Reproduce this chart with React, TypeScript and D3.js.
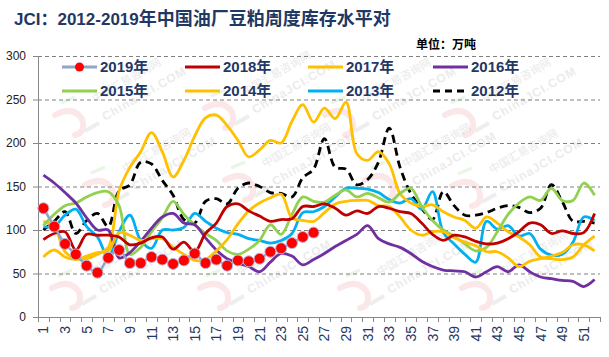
import React from "react";
import * as d3 from "d3";

const W = 609;
const H = 357;

const titleLatin = "JCI：2012-2019";
const titleCJK = "年中国油厂豆粕周度库存水平对";
const unitLabel = "单位：万吨";

const weeks: number[] = d3.range(1, 53);
const yTicks = [0, 50, 100, 150, 200, 250, 300];
const xLabelWeeks = d3.range(1, 53, 2);

const s2019 = [125, 104, 84, 72, 59, 51, 68, 77, 62, 62, 69, 66, 61, 65, 73, 62, 66, 59, 65, 64, 67, 75, 79, 85, 92, 97];
const s2018 = [89, 96, 98, 77, 95, 94, 94, 92, 83, 85, 91, 92, 78, 86, 75, 96, 108, 127, 130, 122, 116, 110, 112, 113, 127, 127, 130, 125, 117, 122, 119, 127, 125, 121, 119, 108, 95, 88, 94, 92, 87, 84, 85, 90, 98, 108, 106, 96, 99, 96, 97, 119];
const s2017 = [69, 77, 69, 66, 70, 74, 76, 97, 94, 88, 90, 90, 80, 72, 65, 66, 76, 89, 107, 122, 131, 137, 141, 114, 111, 110, 120, 130, 133, 134, 134, 128, 127, 115, 100, 94, 98, 98, 91, 86, 82, 75, 75, 68, 58, 64, 67, 70, 74, 83, 83, 76];
const s2016 = [163, 154, 143, 131, 114, 100, 100, 68, 74, 87, 102, 115, 119, 108, 106, 91, 77, 67, 62, 58, 52, 63, 73, 70, 60, 66, 73, 81, 88, 95, 105, 90, 84, 80, 73, 64, 58, 54, 53, 52, 46, 52, 58, 52, 60, 52, 46, 44, 42, 41, 35, 43];
const s2015 = [105, 118, 128, 131, 138, 143, 144, 128, 72, 80, 98, 114, 133, 118, 106, 96, 88, 76, 72, 78, 88, 106, 95, 118, 138, 133, 132, 140, 146, 138, 142, 137, 132, 142, 148, 127, 111, 100, 93, 84, 76, 80, 98, 118, 131, 138, 134, 148, 134, 134, 154, 140];
const s2014 = [110, 104, 75, 67, 67, 72, 80, 145, 172, 190, 212, 190, 161, 180, 208, 229, 232, 220, 203, 184, 192, 203, 200, 225, 244, 224, 240, 228, 247, 188, 180, 190, 176, 142, 131, 127, 129, 121, 115, 111, 102, 115, 108, 98, 92, 83, 69, 67, 66, 69, 83, 93];
const s2013 = [104, 104, 117, 124, 104, 92, 69, 98, 117, 88, 79, 100, 100, 103, 119, 110, 102, 97, 95, 90, 88, 85, 88, 96, 120, 121, 127, 138, 148, 148, 147, 143, 135, 131, 136, 124, 144, 97, 84, 72, 63, 110, 101, 105, 93, 96, 78, 71, 72, 86, 115, 111];
const s2012 = [100, 110, 121, 96, 111, 119, 104, 145, 152, 178, 176, 157, 140, 112, 108, 133, 136, 130, 148, 154, 150, 143, 142, 138, 160, 170, 205, 172, 170, 152, 158, 178, 217, 172, 142, 125, 112, 144, 128, 117, 117, 120, 125, 128, 126, 120, 125, 152, 133, 110, 110, 108];

const seriesNames = ["2019年", "2018年", "2017年", "2016年", "2015年", "2014年", "2013年", "2012年"];
const seriesValues = [s2019, s2018, s2017, s2016, s2015, s2014, s2013, s2012];
const seriesColors = ["#8EA6C9", "#C00000", "#FFC000", "#7030A0", "#92D050", "#FFC000", "#00B0F0", "#000000"];

const M = { left: 38, right: 600, top: 56, bottom: 317 };

const x = d3.scaleBand<number>().domain(weeks).range([M.left, M.right]).padding(0);
const y = d3.scaleLinear().domain([0, 300]).range([M.bottom, M.top]);
const cx = (w: number) => (x(w) as number) + x.bandwidth() / 2;

const line = d3
  .line<number>()
  .x((_, i) => cx(i + 1))
  .y((v) => y(v))
  .curve(d3.curveCatmullRom.alpha(0.5));

const navy = "#1F3864";

const watermarkSpots: [number, number][] = [
  [55, 125], [205, 118], [325, 125], [445, 125],
  [85, 195], [225, 190], [365, 190], [452, 196],
  [52, 298], [200, 298], [340, 298], [462, 298],
];

function Watermark({ px, py }: { px: number; py: number }) {
  return (
    <g opacity={0.4}>
      <path
        d={`M${px},${py - 10} Q${px + 18},${py - 20} ${px + 27},${py - 6} Q${px + 31},${py + 8} ${px + 20},${py + 10}`}
        fill="none"
        stroke="#F6C4C4"
        strokeWidth={6}
        strokeLinecap="round"
      />
      <line x1={px + 6} y1={py - 22} x2={px + 20} y2={py - 28} stroke="#C9EBC0" strokeWidth={3} />
      <line x1={px + 30} y1={py + 6} x2={px + 44} y2={py - 2} stroke="#D6D6D6" strokeWidth={4} />
      <text
        transform={`translate(${px + 40},${py - 22}) rotate(-30)`}
        fontSize={11}
        fill="#C8C8C8"
        fontFamily="Noto Sans CJK SC"
      >
        中国汇易咨询网
      </text>
      <text
        transform={`translate(${px + 50},${py - 4}) rotate(-30)`}
        fontSize={12}
        fontWeight="bold"
        fill="#CFCFCF"
        fontFamily="Liberation Sans, Arial, sans-serif"
        letterSpacing={1}
      >
        ChinaJCI.COM
      </text>
    </g>
  );
}

const legendCols = [62, 185, 308, 433];
const legendRows = [67, 91];

export default function App() {
  const drawOrder = [7, 6, 5, 4, 3, 2, 1, 0];
  return (
    <svg width={W} height={H} style={{ position: "absolute", left: 0, top: 0, background: "#fff" }}>
      <rect x={0} y={0} width={W} height={H} fill="#fff" />
      {/* title */}
      <text x={14} y={25} fill={navy} fontWeight="bold" fontFamily="Liberation Sans, Noto Sans CJK SC, sans-serif">
        <tspan fontSize={17}>{titleLatin}</tspan>
        <tspan fontSize={18} fontFamily="Noto Sans CJK SC">{titleCJK}</tspan>
      </text>
      <text x={416} y={49} fontSize={12} fontWeight="bold" fill="#000" fontFamily="Noto Sans CJK SC">
        {unitLabel}
      </text>

      {/* watermarks */}
      {watermarkSpots.map(([a, b], i) => (
        <Watermark key={i} px={a} py={b} />
      ))}

      {/* grid */}
      {yTicks.filter((t) => t > 0).map((t) => (
        <line key={t} x1={M.left} x2={M.right} y1={y(t) + 0.5} y2={y(t) + 0.5} stroke="#808080" strokeWidth={1} strokeDasharray="4,3" />
      ))}
      {/* y axis */}
      <line x1={M.left + 0.5} x2={M.left + 0.5} y1={M.top} y2={M.bottom} stroke="#868686" strokeWidth={1} />
      {yTicks.map((t) => (
        <g key={t}>
          <line x1={M.left - 5} x2={M.left} y1={y(t) + 0.5} y2={y(t) + 0.5} stroke="#868686" />
          <text x={26} y={y(t)} dy="0.36em" textAnchor="end" fontSize={12} fill="#222" fontFamily="Liberation Sans, Arial, sans-serif">
            {t}
          </text>
        </g>
      ))}
      {/* x axis */}
      <line x1={M.left} x2={M.right} y1={M.bottom + 0.5} y2={M.bottom + 0.5} stroke="#868686" />
      {weeks.concat([53]).map((w) => {
        const xx = w === 53 ? M.right : (x(w) as number);
        return <line key={w} x1={Math.round(xx) + 0.5} x2={Math.round(xx) + 0.5} y1={M.bottom} y2={M.bottom + 5} stroke="#868686" />;
      })}
      {xLabelWeeks.map((w) => (
        <text
          key={w}
          transform={`translate(${cx(w)},${326}) rotate(-90)`}
          dy="0.36em"
          textAnchor="end"
          fontSize={14}
          fill={navy}
          fontFamily="Liberation Sans, Arial, sans-serif"
        >
          {w}
        </text>
      ))}

      {/* series */}
      {drawOrder.map((si) => (
        <path
          key={si}
          d={line(seriesValues[si]) || ""}
          fill="none"
          stroke={seriesColors[si]}
          strokeWidth={si === 0 ? 2.5 : 2.8}
          strokeDasharray={si === 7 ? "8,5" : undefined}
          strokeLinejoin="round"
        />
      ))}
      {s2019.map((v, i) => (
        <circle key={i} cx={cx(i + 1)} cy={y(v)} r={5.5} fill="#FF0000" stroke="#B8B8D8" strokeWidth={1} />
      ))}

      {/* legend */}
      {seriesNames.map((name, i) => {
        const col = legendCols[i % 4];
        const row = legendRows[Math.floor(i / 4)];
        return (
          <g key={name}>
            <line
              x1={col}
              x2={col + 35}
              y1={row}
              y2={row}
              stroke={seriesColors[i]}
              strokeWidth={3}
              strokeDasharray={i === 7 ? "7,5" : undefined}
            />
            {i === 0 && <circle cx={col + 17.5} cy={row} r={4.5} fill="#FF0000" />}
            <text x={col + 38} y={row} dy="0.36em" fontSize={15} fontWeight="bold" fill={navy} fontFamily="Liberation Sans, Noto Sans CJK SC, sans-serif">
              {name}
            </text>
          </g>
        );
      })}
    </svg>
  );
}
